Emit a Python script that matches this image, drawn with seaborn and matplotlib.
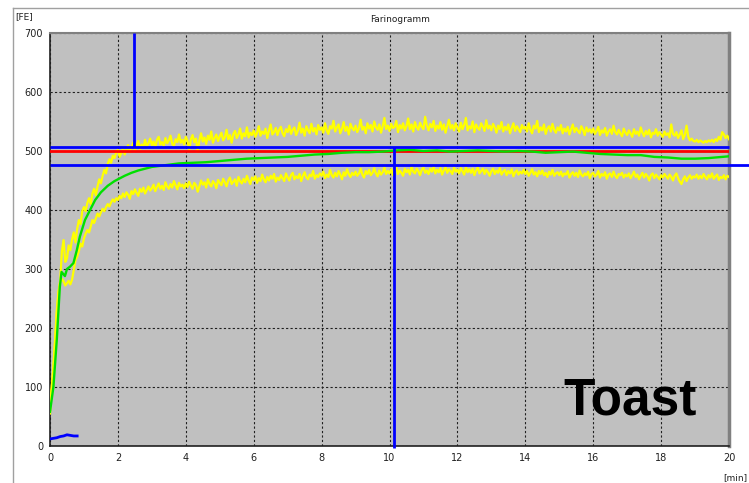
import numpy as np
import pandas as pd
import matplotlib
matplotlib.use("Agg")
import matplotlib.pyplot as plt
from matplotlib.lines import Line2D
import seaborn as sns

# ---------------- data ----------------
yellow_time = np.round(np.linspace(0, 20, 401), 2)

upper_fe = [
    70, 100, 135, 180, 230, 262, 280, 330, 349, 312, 318, 340, 332, 350, 362, 345, 368, 383, 376, 398,
    405, 398, 412, 420, 410, 428, 436, 425, 440, 452, 445, 458, 468, 462, 478, 486, 480, 492, 488, 498,
    502, 490, 497, 506, 494, 502, 510, 498, 505, 514, 500, 509, 517, 503, 511, 506, 519, 508, 513, 521,
    510, 516, 505, 519, 524, 511, 515, 508, 522, 513, 518, 526, 512, 509, 520, 515, 528, 514, 519, 511,
    524, 517, 502, 520, 527, 515, 521, 499, 518, 530, 516, 523, 512, 526, 519, 533, 514, 522, 528, 517,
    525, 531, 518, 523, 536, 520, 527, 514, 529, 534, 522, 528, 538, 521, 530, 525, 540, 523, 531, 527,
    535, 524, 531, 542, 526, 533, 529, 538, 522, 535, 545, 528, 532, 539, 527, 536, 541, 530, 525, 537,
    532, 543, 529, 536, 540, 527, 534, 548, 531, 538, 526, 542, 535, 530, 546, 533, 539, 528, 544, 536,
    540, 531, 547, 535, 529, 542, 538, 551, 533, 540, 545, 530, 537, 549, 534, 541, 528, 546, 539, 535,
    543, 532, 539, 553, 536, 541, 530, 547, 538, 544, 533, 550, 540, 536, 545, 531, 542, 556, 537, 543,
    534, 546, 539, 541, 551, 532, 544, 538, 547, 535, 542, 555, 537, 545, 533, 549, 540, 536, 548, 541,
    537, 558, 543, 535, 546, 540, 551, 534, 543, 538, 549, 536, 545, 531, 542, 553, 538, 544, 535, 547,
    540, 533, 548, 537, 544, 556, 535, 542, 538, 550, 532, 545, 539, 536, 547, 541, 534, 552, 538, 543,
    535, 546, 540, 531, 543, 537, 549, 533, 541, 536, 545, 530, 539, 547, 534, 542, 537, 532, 544, 538,
    541, 533, 547, 536, 530, 543, 538, 551, 532, 540, 535, 545, 529, 538, 542, 533, 546, 536, 531, 540,
    535, 544, 530, 538, 533, 541, 528, 537, 545, 532, 539, 534, 530, 542, 536, 527, 540, 533, 537, 531,
    538, 529, 534, 541, 527, 535, 531, 539, 526, 533, 537, 529, 543, 532, 528, 536, 530, 525, 538, 531,
    527, 535, 530, 524, 537, 529, 533, 526, 540, 531, 525, 534, 528, 536, 523, 531, 529, 537, 526, 532,
    528, 524, 533, 527, 530, 523, 545, 529, 526, 532, 522, 528, 535, 520, 527, 543, 524, 518, 521, 517,
    516, 519, 515, 518, 516, 514, 517, 515, 518, 516, 519, 515, 520, 517, 524, 519, 532, 528, 522, 526,
    520,
]

lower_fe = [
    55, 95, 130, 175, 225, 260, 278, 283, 279, 272, 276, 280, 274, 282, 298, 315, 321, 330, 343, 338,
    352, 360, 366, 362, 372, 383, 378, 386, 394, 389, 396, 402, 398, 405, 410, 406, 413, 418, 414, 420,
    417, 424, 420, 428, 422, 430, 426, 419, 432, 427, 435, 429, 424, 436, 431, 438, 428, 434, 440, 433,
    437, 443, 432, 439, 445, 436, 441, 434, 447, 440, 436, 444, 438, 449, 442, 435, 446, 440, 443, 437,
    445, 439, 448, 441, 436, 446, 442, 431, 440, 450, 443, 447, 438, 452, 444, 440, 449, 445, 437, 451,
    446, 442, 453, 447, 440, 450, 455, 444, 448, 452, 441, 456, 449, 445, 453, 447, 458, 450, 444, 455,
    451, 457, 446, 454, 449, 460, 452, 447, 456, 450, 458, 453, 461, 448, 455, 451, 459, 454, 449, 462,
    455, 450, 459, 463, 452, 457, 454, 461, 449, 458, 464, 455, 452, 460, 457, 466, 453, 459, 456, 462,
    458, 465, 454, 460, 456, 468, 459, 455, 463, 457, 466, 460, 452, 464, 458, 469, 461, 456, 463, 459,
    465, 458, 462, 470, 460, 455, 466, 461, 468, 459, 463, 471, 462, 457, 467, 460, 464, 472, 461, 466,
    462, 469, 459, 465, 473, 461, 467, 463, 458, 470, 464, 468, 460, 474, 465, 462, 470, 466, 459, 468,
    472, 463, 467, 461, 470, 465, 474, 462, 468, 464, 471, 460, 467, 473, 463, 469, 466, 461, 472, 465,
    468, 462, 471, 466, 460, 473, 464, 469, 463, 470, 459, 467, 472, 462, 466, 470, 461, 468, 464, 458,
    466, 470, 461, 467, 463, 471, 460, 465, 468, 459, 466, 462, 469, 457, 464, 467, 460, 465, 462, 468,
    461, 466, 458, 463, 469, 460, 464, 457, 466, 461, 467, 459, 463, 456, 465, 460, 468, 458, 462, 464,
    459, 465, 457, 462, 460, 466, 455, 461, 464, 458, 463, 456, 467, 460, 457, 462, 459, 465, 454, 461,
    463, 457, 460, 466, 455, 461, 458, 464, 453, 460, 462, 456, 465, 458, 454, 461, 459, 463, 455, 460,
    457, 462, 454, 459, 465, 456, 460, 452, 458, 463, 455, 461, 457, 450, 459, 462, 454, 460, 456, 452,
    459, 455, 461, 457, 453, 460, 456, 450, 458, 462, 454, 448, 444, 452, 457, 449, 455, 459, 453, 457,
    455, 460, 453, 458, 454, 461, 456, 452, 459, 455, 462, 453, 457, 460, 451, 456, 454, 459, 452, 458,
    456,
]

green_time = [0.0, 0.1, 0.2, 0.25, 0.29, 0.34, 0.44, 0.5, 0.59, 0.69,
              0.79, 0.88, 1.03, 1.18, 1.33, 1.5, 1.7, 1.9, 2.0, 2.2,
              2.4, 2.6, 2.8, 3.0, 3.4, 3.8, 4.2, 4.6, 5.0, 5.4,
              5.8, 6.2, 6.6, 7.0, 7.4, 7.8, 8.2, 8.6, 9.0, 9.4,
              9.8, 10.2, 10.6, 11.0, 11.4, 11.8, 12.2, 12.6, 13.0, 13.4,
              13.8, 14.2, 14.6, 15.0, 15.4, 15.8, 16.2, 16.6, 17.0, 17.4,
              17.8, 18.2, 18.6, 19.0, 19.4, 19.8, 20.0]
green_fe = [58, 100, 180, 230, 270, 295, 288, 300, 304, 310,
            332, 355, 383, 400, 417, 430, 441, 449, 452, 458,
            463, 467, 470, 473, 476, 479, 480, 481, 483, 485,
            487, 488, 489, 490, 492, 494, 495, 497, 498, 498,
            499, 501, 502, 500, 501, 499, 500, 501, 500, 499,
            500, 499, 497, 498, 499, 497, 495, 494, 493, 493,
            490, 489, 487, 487, 488, 490, 491]

start_time = [0.0, 0.1, 0.2, 0.3, 0.4, 0.5, 0.6, 0.7, 0.8]
start_fe = [12, 13, 14, 16, 17, 19, 18, 17, 17]

upper_ref = 507
target_ref = 500
lower_ref = 476
cursor_left = 2.47
cursor_right = 10.13

x_ticks = list(range(0, 21, 2))
y_ticks = list(range(0, 701, 100))

# ---------------- figure ----------------
fig = plt.figure(figsize=(7.49, 4.83), dpi=100)
fig.patch.set_facecolor("white")
ax = fig.add_axes([50 / 749, 37 / 483, 679 / 749, 413 / 483])
ax.set_facecolor("#c0c0c0")

df_up = pd.DataFrame({"t": yellow_time, "fe": upper_fe})
df_lo = pd.DataFrame({"t": yellow_time, "fe": lower_fe})
df_gr = pd.DataFrame({"t": green_time, "fe": green_fe})
df_st = pd.DataFrame({"t": start_time, "fe": start_fe})

sns.lineplot(data=df_up, x="t", y="fe", ax=ax, color="#ffff00", lw=1.6,
             estimator=None, sort=False, zorder=3)
sns.lineplot(data=df_lo, x="t", y="fe", ax=ax, color="#ffff00", lw=1.6,
             estimator=None, sort=False, zorder=3)

ax.plot([0, 20], [target_ref, target_ref], color="#ff0000", lw=2.0, zorder=4)
sns.lineplot(data=df_gr, x="t", y="fe", ax=ax, color="#00e000", lw=1.7,
             estimator=None, sort=False, zorder=5)
ax.plot([0, 20], [upper_ref, upper_ref], color="#0000ff", lw=2.0, zorder=6,
        clip_on=False, solid_capstyle="butt")
ax.plot([0, 20.62], [lower_ref, lower_ref], color="#0000ff", lw=2.0, zorder=6,
        clip_on=False, solid_capstyle="butt")
ax.plot([cursor_left, cursor_left], [upper_ref, 700], color="#0000ff", lw=2.0,
        zorder=6, solid_capstyle="butt")
ax.plot([cursor_right, cursor_right], [upper_ref, -4], color="#0000ff", lw=2.0,
        zorder=6, clip_on=False, solid_capstyle="butt")
sns.lineplot(data=df_st, x="t", y="fe", ax=ax, color="#0000ff", lw=2.0,
             estimator=None, sort=False, zorder=6)

ax.set_xlim(0, 20)
ax.set_ylim(0, 700)
ax.set_xticks(x_ticks)
ax.set_yticks(y_ticks)
ax.set_xticklabels([str(v) for v in x_ticks])
ax.set_yticklabels([str(v) for v in y_ticks])
ax.set_xlabel("")
ax.set_ylabel("")
ax.tick_params(axis="both", labelsize=7, length=0, pad=5, colors="#202020")
ax.grid(True, color="#202020", linestyle=(0, (2, 2)), lw=0.8)
ax.set_axisbelow(True)

ax.spines["left"].set_color("#202020")
ax.spines["left"].set_linewidth(1.2)
ax.spines["bottom"].set_color("#202020")
ax.spines["bottom"].set_linewidth(1.2)
ax.spines["top"].set_color("#808080")
ax.spines["top"].set_linewidth(1.5)
ax.spines["right"].set_color("#808080")
ax.spines["right"].set_linewidth(2.5)

ax.text(0.953, 0.076, "Toast", transform=ax.transAxes, ha="right", va="baseline",
        fontsize=37, fontweight="bold", family="Liberation Sans", color="black")

fig.text(400 / 749, 1 - 19 / 483, "Farinogramm", ha="center", va="center",
         fontsize=6.5, color="#202020")
fig.text(15 / 749, 1 - 17 / 483, "[FE]", ha="left", va="center",
         fontsize=6.5, color="#202020")
fig.text(747 / 749, 1 - 478 / 483, "[min]", ha="right", va="center",
         fontsize=6.5, color="#202020")

# outer frame lines
fig.add_artist(Line2D([13 / 749, 13 / 749], [0, 1 - 8 / 483],
                      transform=fig.transFigure, color="#a0a0a0", lw=1))
fig.add_artist(Line2D([13 / 749, 1], [1 - 8 / 483, 1 - 8 / 483],
                      transform=fig.transFigure, color="#a0a0a0", lw=1))

fig.savefig("out.png", dpi=100)
